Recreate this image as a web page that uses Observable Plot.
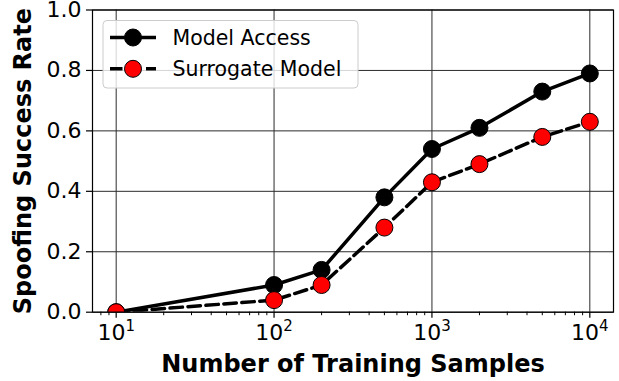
<!DOCTYPE html>
<html>
<head>
<meta charset="utf-8">
<script src="https://cdn.jsdelivr.net/npm/d3@7"></script>
<script src="https://cdn.jsdelivr.net/npm/@observablehq/plot@0.6"></script>
<style>
  html, body { margin: 0; padding: 0; background: white; }
</style>
</head>
<body>
<div id="chart"></div>
<script>
// ---- data ----
const trainingSamples = [10, 100, 200, 500, 1000, 2000, 5000, 10000];
const modelAccess     = [0.00, 0.09, 0.14, 0.38, 0.54, 0.61, 0.73, 0.79];
const surrogateModel  = [0.00, 0.04, 0.09, 0.28, 0.43, 0.49, 0.58, 0.63];
const seriesNames = ["Model Access", "Surrogate Model"];
const xTicks = [10, 100, 1000, 10000];
const yTicks = [0, 0.2, 0.4, 0.6, 0.8, 1.0];
const xLabel = "Number of Training Samples";
const yLabel = "Spoofing Success Rate";

// ---- build table ----
const rows = trainingSamples.flatMap((x, i) => [
  {x, y: modelAccess[i], series: seriesNames[0]},
  {x, y: surrogateModel[i], series: seriesNames[1]}
]);
const rowsA = rows.filter(d => d.series === seriesNames[0]);
const rowsB = rows.filter(d => d.series === seriesNames[1]);

const xDomain = [Math.pow(10, 0.85), Math.pow(10, 4.15)];
const minorTicks = [];
for (const d of [1, 10, 100, 1000, 10000]) {
  for (let m = 2; m <= 9; m++) {
    const v = m * d;
    if (v >= xDomain[0] && v <= xDomain[1]) minorTicks.push(v);
  }
}

const DASH = "12.5,5.5";

const plot = Plot.plot({
  width: 619,
  height: 381,
  marginLeft: 92,
  marginRight: 6,
  marginTop: 9.5,
  marginBottom: 69.3,
  style: {fontFamily: "DejaVu Sans", fontSize: "22px", color: "black", background: "white"},
  x: {type: "log", domain: xDomain},
  y: {domain: [0, 1]},
  marks: [
    Plot.gridX(xTicks, {stroke: "#2b2b2b", strokeOpacity: 1, strokeWidth: 1}),
    Plot.gridY(yTicks, {stroke: "#2b2b2b", strokeOpacity: 1, strokeWidth: 1}),
    Plot.axisX(minorTicks, {tickSize: 3.5, tickFormat: () => "", label: null, strokeWidth: 1}),
    Plot.axisX(xTicks, {tickSize: 6, tickPadding: 6.5, strokeWidth: 1.2,
      tickFormat: d => "10^" + Math.round(Math.log10(d)), label: null, fontSize: 22}),
    Plot.axisY(yTicks, {tickSize: 6, tickPadding: 5, strokeWidth: 1.2,
      tickFormat: d3.format(".1f"), label: null, fontSize: 22}),
    Plot.line(rowsA, {x: "x", y: "y", stroke: "black", strokeWidth: 3.5, clip: true}),
    Plot.dot(rowsA, {x: "x", y: "y", r: 8.5, fill: "black", stroke: "black", strokeWidth: 1, clip: true}),
    Plot.line(rowsB, {x: "x", y: "y", stroke: "black", strokeWidth: 3.5, strokeDasharray: DASH, clip: true}),
    Plot.dot(rowsB, {x: "x", y: "y", r: 8.5, fill: "red", stroke: "black", strokeWidth: 1, clip: true}),
    Plot.frame({stroke: "black", strokeWidth: 1.2}),
    Plot.text([yLabel], {frameAnchor: "left", rotate: -90, dx: -69.5, lineAnchor: "middle",
      text: d => d, fontSize: 24, fontWeight: "bold", textAnchor: "middle"}),
    Plot.text([xLabel], {frameAnchor: "bottom", dy: 52.5, lineAnchor: "middle",
      text: d => d, fontSize: 24, fontWeight: "bold", textAnchor: "middle"})
  ]
});

// superscripts for log tick labels
plot.querySelectorAll('g[aria-label="x-axis tick label"] text').forEach(t => {
  const s = t.textContent;
  if (!s.includes("^")) return;
  const [b, e] = s.split("^");
  t.textContent = "";
  const ns = "http://www.w3.org/2000/svg";
  const t1 = document.createElementNS(ns, "tspan");
  t1.textContent = b;
  const t2 = document.createElementNS(ns, "tspan");
  t2.textContent = e;
  t2.setAttribute("font-size", "15px");
  t2.setAttribute("dy", "-9.5");
  t.appendChild(t1);
  t.appendChild(t2);
});

// legend (inside plot area, top-left)
const svg = d3.select(plot);
const lg = svg.append("g").attr("font-family", "DejaVu Sans").attr("text-anchor", "start");
lg.append("rect").attr("x", 103).attr("y", 20.5).attr("width", 255).attr("height", 67.5)
  .attr("rx", 4).attr("fill", "white").attr("fill-opacity", 0.8)
  .attr("stroke", "#cccccc").attr("stroke-width", 1);
const legendRows = [
  {name: seriesNames[0], fill: "black", dash: null, cy: 37.5},
  {name: seriesNames[1], fill: "red", dash: DASH, cy: 68.8}
];
legendRows.forEach(r => {
  lg.append("line").attr("x1", 110).attr("x2", 156).attr("y1", r.cy).attr("y2", r.cy)
    .attr("stroke", "black").attr("stroke-width", 3.5)
    .attr("stroke-dasharray", r.dash);
  lg.append("circle").attr("cx", 133).attr("cy", r.cy).attr("r", 8.5)
    .attr("fill", r.fill).attr("stroke", "black").attr("stroke-width", 1);
  lg.append("text").attr("x", 172.5).attr("y", r.cy + 7.3).attr("text-anchor", "start")
    .attr("font-size", "20.5px").attr("fill", "black").text(r.name);
});

document.getElementById("chart").appendChild(plot);
</script>
</body>
</html>
